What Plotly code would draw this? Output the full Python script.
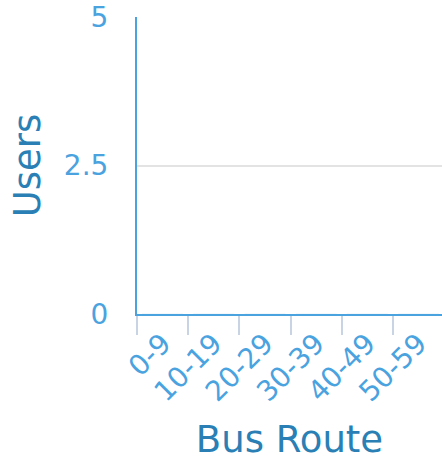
import plotly.graph_objects as go

categories = ["0-9", "10-19", "20-29", "30-39", "40-49", "50-59"]
users = [0, 0, 0, 0, 0, 0]
y_ticks = [0, 2.5, 5]
y_tick_labels = ["0", "2.5", "5"]

tick_blue = "#4aa3df"
title_blue = "#2a7fb5"

fig = go.Figure(go.Bar(x=categories, y=users, marker_color=tick_blue))

fig.update_layout(
    width=442, height=461,
    margin=dict(l=137, r=0, t=17, b=147),
    plot_bgcolor="white", paper_bgcolor="white",
    font=dict(family="DejaVu Sans", color=tick_blue),
    showlegend=False,
)
fig.update_xaxes(
    type="category",
    range=[-0.5, 5.46],
    automargin=False,
    tickson="boundaries",
    ticks="outside", ticklen=19, tickwidth=2, tickcolor="#c8d4e3",
    tickangle=-45,
    tickfont=dict(size=28, color=tick_blue),
    showline=True, linecolor=tick_blue, linewidth=2,
    showgrid=False,
    title=dict(text="Bus Route", font=dict(size=37, color=title_blue), standoff=27),
)
fig.update_yaxes(
    range=[0, 5],
    automargin=False,
    tickvals=y_ticks, ticktext=y_tick_labels,
    ticks="outside", ticklen=21, tickcolor="rgba(0,0,0,0)",
    tickfont=dict(size=28, color=tick_blue),
    ticklabeloverflow="allow",
    showline=True, linecolor=tick_blue, linewidth=2,
    showgrid=True, gridcolor="#e3e3e3", gridwidth=2,
    zeroline=False,
    title=dict(text="Users", font=dict(size=37, color=title_blue), standoff=12),
)

fig.write_html(
    "out.html",
    config={"displayModeBar": False},
    post_script="document.body.style.margin='0';",
)
